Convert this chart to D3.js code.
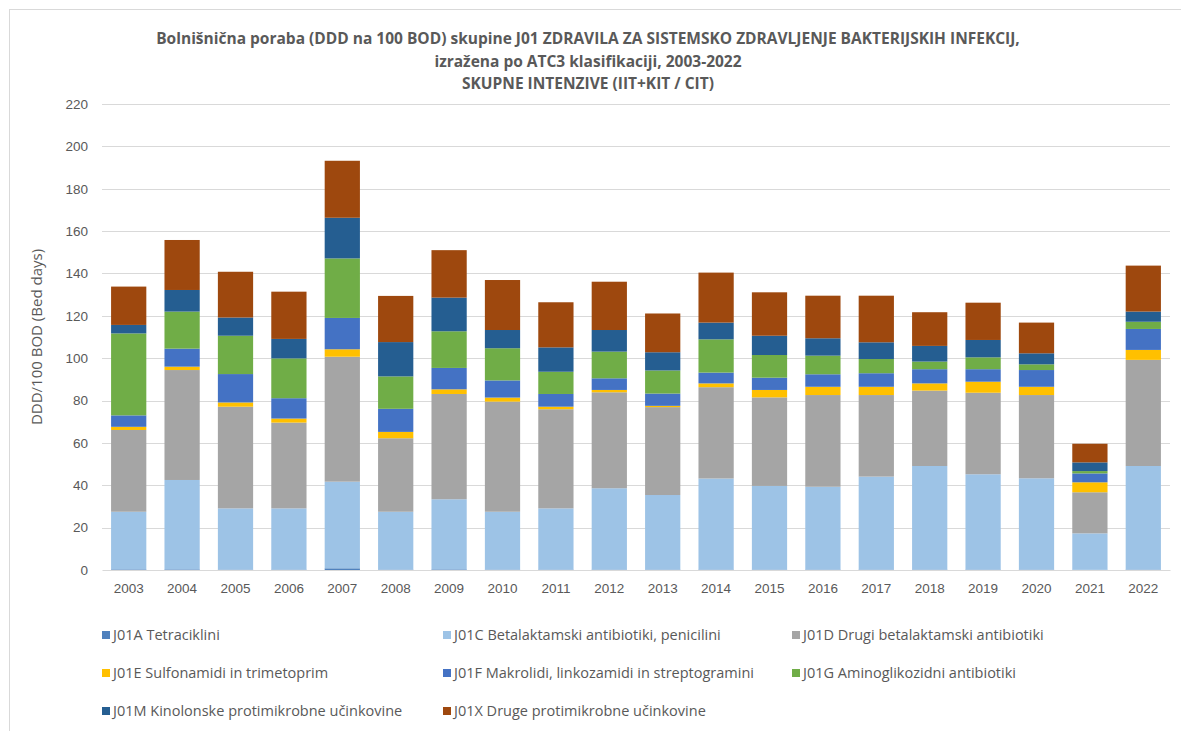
<!DOCTYPE html>
<html><head><meta charset="utf-8">
<script src="https://cdn.jsdelivr.net/npm/d3@7"></script>
<style>
html,body{margin:0;padding:0;background:#fff;}
svg{display:block;font-family:"Open Sans","Liberation Sans",sans-serif;}
</style></head>
<body><svg id="c" width="1181" height="731"></svg>
<script>
const years = ["2003","2004","2005","2006","2007","2008","2009","2010","2011","2012","2013","2014","2015","2016","2017","2018","2019","2020","2021","2022"];
const seriesNames = ["J01A Tetraciklini","J01C Betalaktamski antibiotiki, penicilini","J01D Drugi betalaktamski antibiotiki","J01E Sulfonamidi in trimetoprim","J01F Makrolidi, linkozamidi in streptogramini","J01G Aminoglikozidni antibiotiki","J01M Kinolonske protimikrobne učinkovine","J01X Druge protimikrobne učinkovine"];
const J01A = [0.3,0.3,0.2,0.2,0.8,0.2,0.3,0.2,0.2,0.2,0.2,0.2,0.2,0.2,0.2,0.2,0.2,0.2,0.1,0.2];
const J01C = [27.2,42.2,28.9,28.9,40.9,27.3,33.1,27.3,28.9,38.4,35.2,43.0,39.5,39.1,43.9,48.9,45.0,43.1,17.2,48.9];
const J01D = [38.6,51.9,48.0,40.5,59.0,34.7,49.7,52.0,46.8,45.3,41.5,43.1,41.8,43.3,38.5,35.6,38.5,39.3,19.4,50.1];
const J01E = [1.5,1.6,2.0,1.9,3.5,3.0,2.2,1.9,1.2,1.1,0.6,1.8,3.5,3.9,3.9,3.4,5.2,3.9,4.7,4.7];
const J01F = [5.4,8.5,13.4,9.6,14.8,10.9,10.1,8.1,6.0,5.5,5.8,5.1,5.8,5.9,6.4,6.7,5.9,7.9,4.2,9.9];
const J01G = [38.7,17.5,18.1,18.8,28.1,15.3,17.3,15.2,10.5,12.6,10.9,15.7,10.7,8.8,6.7,3.6,5.6,2.7,1.1,3.4];
const J01M = [4.0,10.2,8.6,9.2,19.2,16.2,15.9,8.6,11.5,10.2,8.6,7.9,9.1,8.2,7.9,7.4,8.2,5.2,4.1,4.8];
const J01X = [18.1,23.6,21.6,22.3,26.9,21.8,22.4,23.6,21.3,22.8,18.3,23.6,20.5,20.1,22.0,15.9,17.6,14.5,8.8,21.7];
const yTicks = [0,20,40,60,80,100,120,140,160,180,200,220];
const colors = ["#4f81bd","#9dc3e6","#a5a5a5","#ffc000","#4472c4","#70ad47","#255e91","#9e480e"];
const titleLines = ["Bolnišnična poraba (DDD na 100 BOD) skupine J01 ZDRAVILA ZA SISTEMSKO ZDRAVLJENJE BAKTERIJSKIH INFEKCIJ,","izražena po ATC3 klasifikaciji, 2003-2022","SKUPNE INTENZIVE (IIT+KIT / CIT)"];
const yTitle = "DDD/100 BOD (Bed days)";

const seriesVals = [J01A,J01C,J01D,J01E,J01F,J01G,J01M,J01X];
const keys = seriesNames;
const table = years.map((y,i)=>{const o={year:y}; keys.forEach((k,j)=>o[k]=seriesVals[j][i]); return o;});

const svg = d3.select("#c");
const grey = "#595959";
// outer frame
svg.append("rect").attr("x",9.5).attr("y",9.5).attr("width",1200).attr("height",800)
  .attr("fill","none").attr("stroke","#d9d9d9").attr("stroke-width",1);

const x = d3.scaleBand().domain(years).range([102,1170]).paddingInner(0.34).paddingOuter(0.17);
const y = d3.scaleLinear().domain([0,220]).range([570,104]);

// gridlines
svg.append("g").selectAll("line").data(yTicks.filter(t=>t>0)).join("line")
  .attr("x1",102).attr("x2",1170).attr("y1",d=>Math.round(y(d))+0.5).attr("y2",d=>Math.round(y(d))+0.5)
  .attr("stroke","#d9d9d9").attr("stroke-width",1);

// y axis
const ya = svg.append("g").attr("transform","translate(102,0)")
  .call(d3.axisLeft(y).tickValues(yTicks).tickSize(0).tickPadding(14));
ya.select(".domain").remove();
ya.selectAll("text").attr("fill",grey).style("font-size","13.5px");

// stacked bars
const stack = d3.stack().keys(keys)(table);
svg.append("g").selectAll("g").data(stack).join("g").attr("fill",(d,i)=>colors[i])
  .selectAll("rect").data(d=>d).join("rect")
  .attr("x",d=>x(d.data.year)).attr("width",x.bandwidth())
  .attr("y",d=>y(d[1])).attr("height",d=>Math.max(0,y(d[0])-y(d[1])));

// x axis
const xa = svg.append("g").attr("transform","translate(0,570)")
  .call(d3.axisBottom(x).tickSize(0).tickPadding(13));
xa.select(".domain").attr("stroke","#d9d9d9");
xa.selectAll("text").attr("fill",grey).style("font-size","13.5px");

// title
svg.append("g").selectAll("text").data(titleLines).join("text")
  .attr("x",588).attr("y",(d,i)=>44+i*22.5).attr("text-anchor","middle")
  .attr("fill",grey).style("font-size","15.5px").style("font-weight","bold").text(d=>d);

// y title
svg.append("text").attr("transform","translate(42,337) rotate(-90)").attr("text-anchor","middle")
  .attr("fill",grey).style("font-size","15px").text(yTitle);

// legend
const legX = [102,443,792], legY = [635,673,711];
const lg = svg.append("g").selectAll("g").data(keys).join("g")
  .attr("transform",(d,i)=>`translate(${legX[i%3]},${legY[Math.floor(i/3)]})`);
lg.append("rect").attr("x",0).attr("y",-4).attr("width",8).attr("height",8).attr("fill",(d,i)=>colors[i]);
lg.append("text").attr("x",11).attr("y",5).attr("fill",grey).style("font-size","14.5px").text(d=>d);
</script></body></html>
